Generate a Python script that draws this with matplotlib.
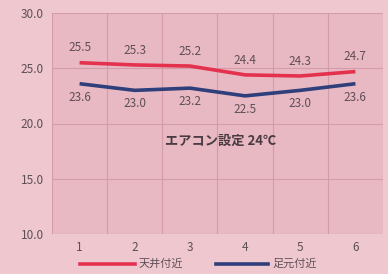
import matplotlib.pyplot as plt

plt.rcParams['font.family'] = ['Noto Sans CJK JP', 'DejaVu Sans']

points = [1, 2, 3, 4, 5, 6]
ceiling = [25.5, 25.3, 25.2, 24.4, 24.3, 24.7]
floor = [23.6, 23.0, 23.2, 22.5, 23.0, 23.6]
yticks = [10.0, 15.0, 20.0, 25.0, 30.0]
labels = ['天井付近', '足元付近']
note = 'エアコン設定 24℃'

bg = '#EFC8CF'
plot_bg = '#E9B9C3'
grid_c = '#D49CA8'
text_c = '#5E4E56'
red = '#E4324E'
blue = '#2F3F7C'

fig = plt.figure(figsize=(3.88, 2.74), dpi=100, facecolor=bg)
ax = fig.add_axes([52 / 388, 1 - 234 / 274, 331 / 388, 221 / 274])
ax.set_facecolor(plot_bg)

ax.plot(points, ceiling, color=red, lw=2.6, solid_capstyle='butt')
ax.plot(points, floor, color=blue, lw=2.6, solid_capstyle='butt')

for x, v in zip(points, ceiling):
    ax.annotate(f'{v:.1f}', (x, v), xytext=(0, 6), textcoords='offset points',
                ha='center', va='bottom', fontsize=8.5, color=text_c)
for x, v in zip(points, floor):
    ax.annotate(f'{v:.1f}', (x, v), xytext=(0, -5), textcoords='offset points',
                ha='center', va='top', fontsize=8.5, color=text_c)

ax.text(3.56, 18.4, note, ha='center', va='center', fontsize=9.5,
        color='#4A3A42', fontweight='bold')

ax.set_xlim(0.5, 6.5)
ax.set_ylim(10, 30)
ax.set_xticks(points)
ax.set_xticks([p + 0.5 for p in [0] + points], minor=True)
ax.set_yticks(yticks)
ax.set_yticklabels([f'{t:.1f}' for t in yticks])
ax.tick_params(which='both', length=0, colors=text_c, labelsize=8.5)
ax.tick_params(axis='x', pad=5)
ax.tick_params(axis='y', pad=6)
ax.grid(True, which='minor', axis='x', color=grid_c, lw=0.8)
ax.grid(True, which='major', axis='y', color=grid_c, lw=0.8)
for s in ax.spines.values():
    s.set_visible(False)

# legend drawn under the axis
fig.lines.append(plt.Line2D([80 / 388, 135 / 388], [1 - 264 / 274] * 2,
                            color=red, lw=2.6, transform=fig.transFigure))
fig.text(139 / 388, 1 - 264 / 274, labels[0], fontsize=8, color=text_c, va='center')
fig.lines.append(plt.Line2D([216 / 388, 268 / 388], [1 - 264 / 274] * 2,
                            color=blue, lw=2.6, transform=fig.transFigure))
fig.text(273 / 388, 1 - 264 / 274, labels[1], fontsize=8, color=text_c, va='center')

fig.savefig('out.png', dpi=100, facecolor=bg)
